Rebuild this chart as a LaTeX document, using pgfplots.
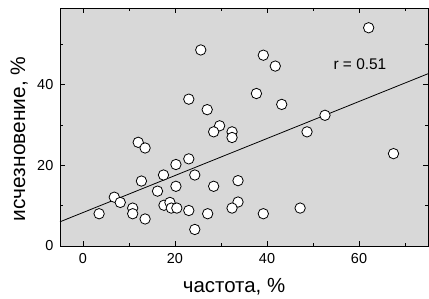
\documentclass[border=0pt]{standalone}
\usepackage{fontspec}
\setmainfont{Liberation Sans}
\usepackage{pgfplots}
\pgfplotsset{compat=1.18}
\definecolor{bg}{RGB}{216,216,216}
\begin{document}
\begin{tikzpicture}
\begin{axis}[
  scale only axis, width=368bp, height=238bp,
  xmin=-5, xmax=75, ymin=0, ymax=59,
  xtick={0,20,40,60}, minor xtick={10,30,50,70},
  ytick={0,20,40}, minor ytick={10,30,50},
  tick align=inside,
  major tick length=5bp, minor tick length=3bp,
  axis background/.style={fill=bg},
  axis line style={line width=0.8bp},
  every tick/.style={line width=0.8bp, black},
  /pgf/number format/assume math mode=true,
  xticklabel style={font=\fontsize{14.5}{17}\selectfont, anchor=north, inner sep=0pt, yshift=-7.5bp},
  yticklabel style={font=\fontsize{14.5}{17}\selectfont, anchor=east, inner sep=0pt, xshift=-6.5bp},
  xlabel={частота, \%}, ylabel={исчезновение, \%},
  xlabel style={font=\fontsize{20.5}{24}\selectfont, at={(axis description cs:0.473,0)}, anchor=base, yshift=-46.7bp},
  ylabel style={font=\fontsize{21}{24}\selectfont, at={(axis description cs:-0.0951,0.45)}, anchor=base},
  clip=false,
]
\addplot[only marks, mark=*, mark size=5.2bp, mark options={fill=white, draw=black, line width=0.8bp}] coordinates {
(3.5,8.0) (6.8,12.1) (8.1,10.8) (10.8,9.4) (10.8,8.0) (12.0,25.7) (13.5,24.3)
(12.7,16.1) (13.5,6.7) (16.2,13.6) (17.5,17.6) (20.2,20.2) (20.2,14.8)
(17.6,10.1) (18.9,10.8) (19.2,9.4) (20.4,9.4) (23.0,21.6) (23.0,8.8)
(29.7,29.8) (28.4,28.3) (32.4,28.3) (32.4,26.9) (24.3,17.6) (28.4,14.8)
(33.7,16.2) (33.7,10.9) (32.4,9.4) (27.1,8.0) (39.2,8.0) (24.3,4.1)
(47.2,9.4) (25.6,48.6) (39.2,47.3) (41.8,44.6) (23.0,36.4) (27.0,33.8)
(37.7,37.8) (43.2,35.1) (62.1,54.1) (52.6,32.4) (48.7,28.3) (67.5,22.9)
};
\addplot[no marks, black, line width=0.8bp] coordinates {(-5,6.0) (75,42.7)};
\node[font=\fontsize{15.5}{18}\selectfont] at (axis cs:60.2,45) {r = 0.51};
\end{axis}
\pgfresetboundingbox
\path[use as bounding box] ([xshift=-60bp,yshift=-53bp]current axis.south west) rectangle ([xshift=1bp,yshift=8bp]current axis.north east);
\end{tikzpicture}
\end{document}
